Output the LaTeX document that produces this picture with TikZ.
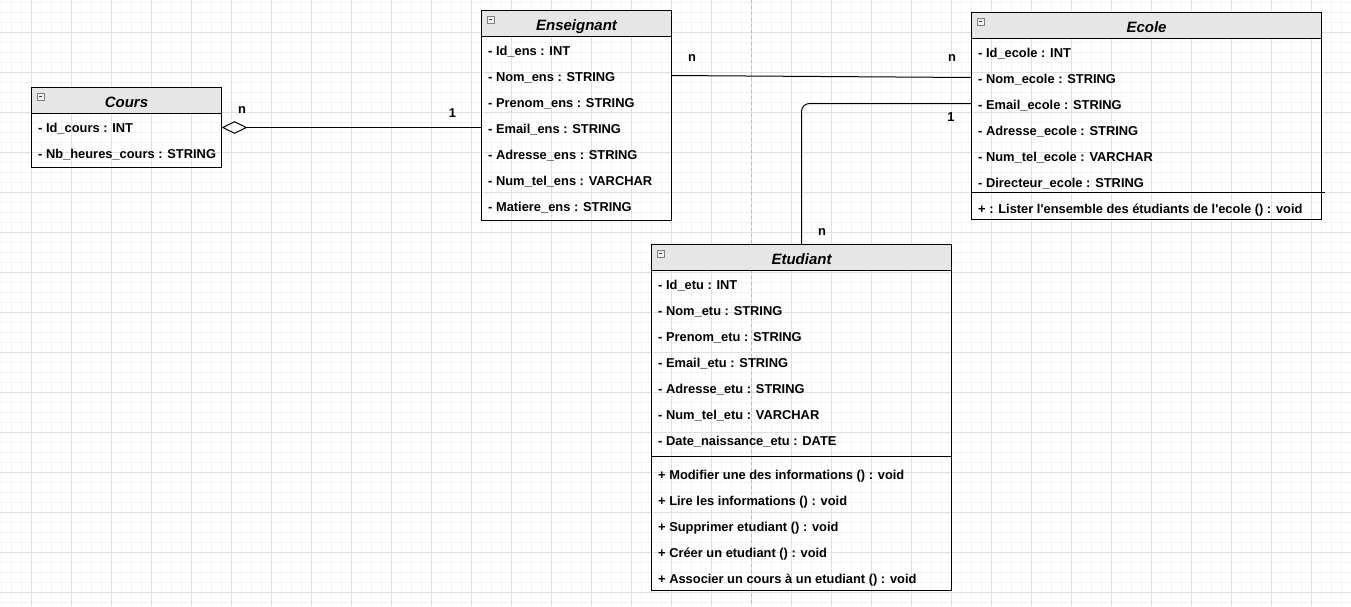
\documentclass[tikz,border=0pt]{standalone}
\usepackage{fontspec}
\setmainfont{Liberation Sans}
\usetikzlibrary{arrows.meta}

\definecolor{gridminor}{HTML}{F4F4F4}
\definecolor{gridmajor}{HTML}{E0E0E0}
\definecolor{headfill}{HTML}{E6E6E6}
\definecolor{pagebreak}{HTML}{BDBDBD}
\definecolor{iconline}{HTML}{7F7F7F}
\definecolor{iconfill}{HTML}{EEF2F6}
\definecolor{icondash}{HTML}{404040}

\tikzset{
  box/.style={draw, line width=1pt, inner sep=0pt, outer sep=0pt, anchor=north west},
  head/.style={box, fill=headfill, minimum height=26pt,
    font=\fontsize{15}{18}\selectfont\bfseries\itshape,
    text height=14.6pt, text depth=1pt},
  row/.style={anchor=west, inner xsep=6.7pt, inner ysep=0pt, outer sep=0pt,
    text height=13pt, text depth=2pt,
    font=\fontsize{12.87}{15}\selectfont\bfseries},
  mult/.style={anchor=base, inner sep=0pt, font=\fontsize{12.87}{15}\selectfont\bfseries},
  link/.style={line width=1pt, black},
  sepline/.style={line width=1pt, black},
}

% small collapse button in the top-left corner of a class header
\newcommand\collapsebox[1]{%
  \draw[iconline, fill=iconfill, line width=0.8pt]
    ([shift={(5.5,5.5)}]#1.north west) rectangle ++(7,7);
  \draw[icondash, line width=1pt]
    ([shift={(7.5,9)}]#1.north west) -- ++(3,0);
}

\begin{document}
\begin{tikzpicture}[x=1pt,y=-1pt]
\useasboundingbox (0,0) rectangle (1351,606);
\fill[white] (0,0) rectangle (1351,606);

% background grid
\foreach \x in {1.5,11.5,...,1351} \draw[gridminor, line width=1pt] (\x,0) -- (\x,606);
\foreach \y in {2.5,12.5,...,606} \draw[gridminor, line width=1pt] (0,\y) -- (1351,\y);
\foreach \x in {31.5,71.5,...,1351} \draw[gridmajor, line width=1pt] (\x,0) -- (\x,606);
\foreach \y in {32.5,72.5,...,606} \draw[gridmajor, line width=1pt] (0,\y) -- (1351,\y);

% page break
\draw[pagebreak, line width=1pt, dash pattern=on 3pt off 3pt] (751.5,0) -- (751.5,606);

% ---- Cours ----
\node[box, minimum width=190pt, minimum height=80pt] (cours) at (31.5,87.5) {};
\node[head, minimum width=190pt] (cours-h) at (cours.north west) {Cours};
\collapsebox{cours}
\node[row] (cours-id) at (31.5,126.5) {- Id\_cours : INT};
\node[row] (cours-nb) at (31.5,152.5) {- Nb\_heures\_cours : STRING};

% ---- Enseignant ----
\node[box, minimum width=190pt, minimum height=210pt] (ens) at (481.5,10.5) {};
\node[head, minimum width=190pt] (ens-h) at (ens.north west) {Enseignant};
\collapsebox{ens}
\node[row] (ens-id)   at (481.5,49.5)  {- Id\_ens : INT};
\node[row] (ens-nom)  at (481.5,75.5)  {- Nom\_ens : STRING};
\node[row] (ens-pre)  at (481.5,101.5) {- Prenom\_ens : STRING};
\node[row] (ens-mail) at (481.5,127.5) {- Email\_ens : STRING};
\node[row] (ens-adr)  at (481.5,153.5) {- Adresse\_ens : STRING};
\node[row] (ens-tel)  at (481.5,179.5) {- Num\_tel\_ens : VARCHAR};
\node[row] (ens-mat)  at (481.5,205.5) {- Matiere\_ens : STRING};

% ---- Ecole ----
\node[box, minimum width=350pt, minimum height=207pt] (ecole) at (971.5,12.5) {};
\node[head, minimum width=350pt] (ecole-h) at (ecole.north west) {Ecole};
\collapsebox{ecole}
\node[row] (ecole-id)   at (971.5,51.5)  {- Id\_ecole : INT};
\node[row] (ecole-nom)  at (971.5,77.5)  {- Nom\_ecole : STRING};
\node[row] (ecole-mail) at (971.5,103.5) {- Email\_ecole : STRING};
\node[row] (ecole-adr)  at (971.5,129.5) {- Adresse\_ecole : STRING};
\node[row] (ecole-tel)  at (971.5,155.5) {- Num\_tel\_ecole : VARCHAR};
\node[row] (ecole-dir)  at (971.5,181.5) {- Directeur\_ecole : STRING};
\draw[sepline] (971.5,192.5) -- (1325,192.5);
\node[row] (ecole-m1)   at (971.5,207.5) {+ : Lister l\textquotesingle ensemble des étudiants de l\textquotesingle ecole () : void};

% ---- Etudiant ----
\node[box, minimum width=300pt, minimum height=346pt] (etu) at (651.5,244.5) {};
\node[head, minimum width=300pt] (etu-h) at (etu.north west) {Etudiant};
\collapsebox{etu}
\node[row] (etu-id)   at (651.5,283.5) {- Id\_etu : INT};
\node[row] (etu-nom)  at (651.5,309.5) {- Nom\_etu : STRING};
\node[row] (etu-pre)  at (651.5,335.5) {- Prenom\_etu : STRING};
\node[row] (etu-mail) at (651.5,361.5) {- Email\_etu : STRING};
\node[row] (etu-adr)  at (651.5,387.5) {- Adresse\_etu : STRING};
\node[row] (etu-tel)  at (651.5,413.5) {- Num\_tel\_etu : VARCHAR};
\node[row] (etu-date) at (651.5,439.5) {- Date\_naissance\_etu : DATE};
\draw[sepline] (651.5,456.5) -- (951.5,456.5);
\node[row] (etu-m1) at (651.5,473.5) {+ Modifier une des informations () : void};
\node[row] (etu-m2) at (651.5,499.5) {+ Lire les informations () : void};
\node[row] (etu-m3) at (651.5,525.5) {+ Supprimer etudiant () : void};
\node[row] (etu-m4) at (651.5,551.5) {+ Créer un etudiant () : void};
\node[row] (etu-m5) at (651.5,577.5) {+ Associer un cours à un etudiant () : void};

% ---- associations ----
\draw[link, {Diamond[open, length=26pt, width=12.6pt]}-] (cours.east) -- (ens-mail.west);
\draw[link] (ens.east |- ens-nom.west) -- (ecole-nom.west);
\draw[link, rounded corners=8pt] (etu.north) |- (ecole-mail.west);

% multiplicities
\node[mult] (m-cours) at (242,113.3) {n};
\node[mult] (m-ens1)  at (452.5,117.7) {1};
\node[mult] (m-ens2)  at (692,61.7) {n};
\node[mult] (m-eco1)  at (952,61.7) {n};
\node[mult] (m-eco2)  at (951,121.7) {1};
\node[mult] (m-etu)   at (822,235) {n};
\end{tikzpicture}
\end{document}
